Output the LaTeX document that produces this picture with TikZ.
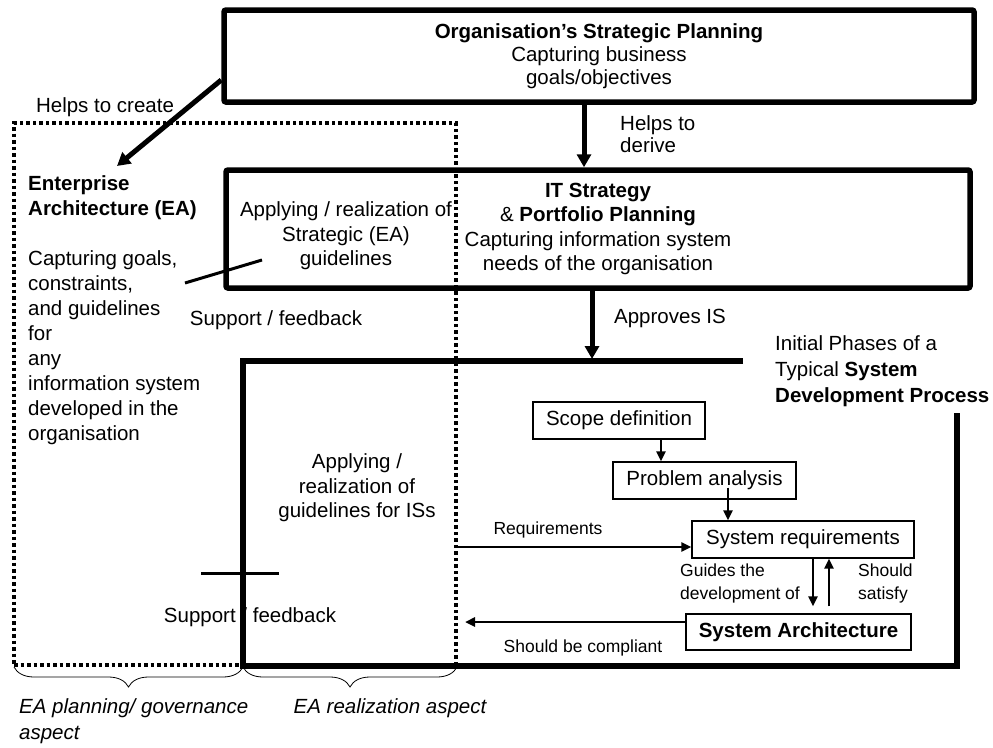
\documentclass[tikz,border=0pt]{standalone}
\usepackage{fontspec}
\setmainfont{Liberation Sans}
\usetikzlibrary{arrows.meta, positioning, calc, decorations.pathreplacing}
\newcommand\bodysize{\fontsize{20.5}{24.5}\selectfont}
\newcommand\labelsize{\fontsize{17.5}{23}\selectfont}
\tikzset{
  every picture/.style={line join=miter},
  txt/.style={font=\bodysize, align=center, inner sep=0pt},
  smalltxt/.style={font=\labelsize, align=left, inner sep=0pt},
  bigbox/.style={draw, line width=5.5pt, rounded corners=2pt, font=\bodysize, align=center},
  phasebox/.style={draw, line width=1.3pt, font=\bodysize, inner sep=0pt},
  dotbox/.style={draw, line width=4pt, dash pattern=on 3.5pt off 3pt},
  frame/.style={line width=5.5pt},
  fatarrow/.style={-{Triangle[length=13pt, width=14pt]}, line width=5pt},
  thinarrow/.style={-{Triangle[length=10pt, width=9pt]}, line width=2.5pt},
  crossline/.style={line width=3pt},
  bracestyle/.style={decorate, decoration={brace, amplitude=20pt}, line width=0.8pt},
}

\begin{document}
\begin{tikzpicture}[x=1pt, y=-1pt]
  \useasboundingbox (0,0) rectangle (993,747);

  % planning boxes
  \node[bigbox, minimum width=750pt, minimum height=92pt, font=\fontsize{20.5}{23}\selectfont] (osp) at (599,56)
    {\textbf{Organisation's Strategic Planning}\\Capturing business\\goals/objectives};
  \node[bigbox, minimum width=744pt, minimum height=118pt] (its) at (598,229)
    {\textbf{IT Strategy}\\\& \textbf{Portfolio Planning}\\Capturing information system\\needs of the organisation};

  % enterprise architecture
  \node[txt, align=left, anchor=west, font=\fontsize{20.5}{25}\selectfont] (eatext) at (28,310)
    {\textbf{Enterprise}\\\textbf{Architecture (EA)}\\[25pt]Capturing goals,\\constraints,\\and guidelines\\for\\any\\information system\\developed in the\\organisation};
  \coordinate (eatip) at (117,166);
  \node[txt] (helpscreate) at (105,107) {Helps to create};
  \node[txt, align=left, anchor=west, font=\fontsize{20.5}{22}\selectfont] (helpsderive) at (620,134) {Helps to\\derive};
  \node[txt] (strapply) at (346,236) {Applying / realization of\\Strategic (EA)\\guidelines};
  \node[txt] (supup) at (276,320) {Support / feedback};
  \node[txt] (approves) at (670,318) {Approves IS};

  % system development process
  \node[txt, align=left, anchor=west, font=\fontsize{20.5}{26}\selectfont] (sdplabel) at (775,371)
    {Initial Phases of a\\Typical \textbf{System}\\\textbf{Development Process}};
  \node[txt] (isapply) at (357,488) {Applying /\\realization of\\guidelines for ISs};
  \node[txt] (suplow) at (250,617) {Support / feedback};
  \coordinate (sdptop) at (592,359);
  \draw[frame] (743,361) -- (243,361) -- (243,666) -- (957,666) -- (957,413);

  \node[phasebox, minimum width=172pt, minimum height=37pt] (scope) at (619,420.5) {Scope definition};
  \node[phasebox, minimum width=183pt, minimum height=37pt] (problem) at (704.5,480.5) {Problem analysis};
  \node[phasebox, minimum width=222pt, minimum height=37pt] (sysreq) at (803,539.5) {System requirements};
  \node[phasebox, minimum width=225pt, minimum height=36pt] (sysarch) at (798.5,632) {\textbf{System Architecture}};

  \node[smalltxt] (reqlbl) at (548,530) {Requirements};
  \node[smalltxt, anchor=west] (guides) at (680,583.5) {Guides the\\development of};
  \node[smalltxt, anchor=west] (satisfy) at (858,583.5) {Should\\satisfy};
  \node[smalltxt] (compliant) at (583,648) {Should be compliant};

  % dotted EA region
  \node[dotbox, minimum width=442pt, minimum height=542pt] (eabox) at (235,394) {};

  % connectors
  \draw[fatarrow] ([yshift=-24pt]osp.west) -- (eatip);
  \draw[fatarrow] ([xshift=-15pt]osp.south) -- ([xshift=-14pt]its.north);
  \draw[fatarrow] ([xshift=-6pt]its.south) -- (sdptop);
  \coordinate (s1) at ([xshift=42pt]scope.south);
  \draw[thinarrow] (s1) -- (s1 |- problem.north);
  \coordinate (p1) at ([xshift=23.5pt, yshift=-7pt]problem.center);
  \draw[thinarrow] (p1) -- (p1 |- sysreq.north);
  \coordinate (reqstart) at (456,547);
  \draw[thinarrow] (reqstart) -- (reqstart -| sysreq.west);
  \coordinate (g1) at ([xshift=10pt]sysreq.south);
  \coordinate (g2) at ([xshift=26pt]sysreq.south);
  \draw[thinarrow, shorten >=7pt] (g1) -- (g1 |- sysarch.north);
  \draw[thinarrow, shorten <=7pt] (g2 |- sysarch.north) -- (g2);
  \coordinate (comptip) at (465,622);
  \draw[thinarrow] ([yshift=10pt]sysarch.west) -- (comptip);

  \draw[crossline] (185,283) -- (262,260);
  \draw[crossline] (201,573) -- (279,573);

  % aspects
  \draw[bracestyle] (243,667) -- (14,667);
  \draw[bracestyle] (457,667) -- (243,667);
  \node[txt, align=left, anchor=west, font=\fontsize{20.5}{26}\selectfont\itshape] (planlbl) at (19,721.5) {EA planning/ governance\\aspect};
  \node[txt, font=\bodysize\itshape] (reallbl) at (390,708) {EA realization aspect};
\end{tikzpicture}
\end{document}
